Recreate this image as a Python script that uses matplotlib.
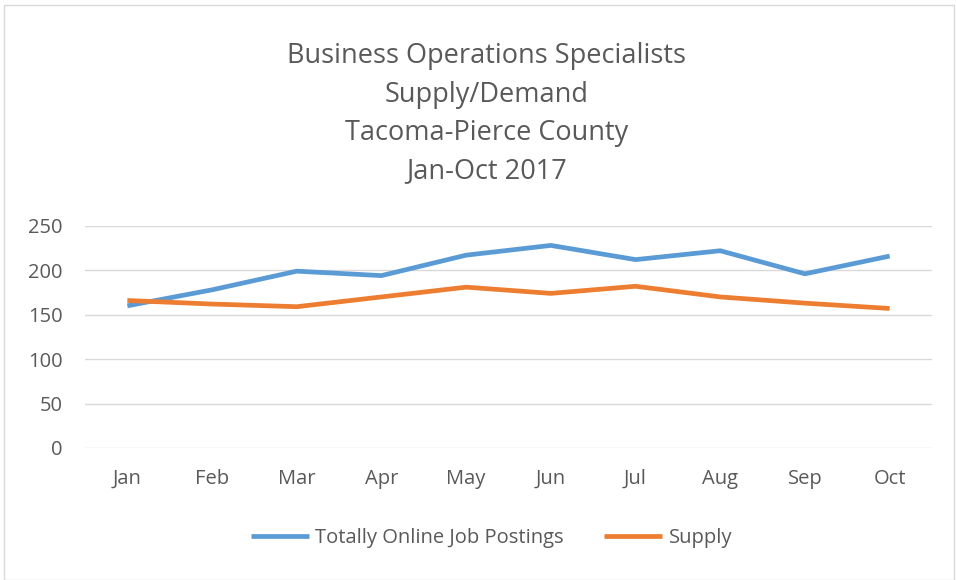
import matplotlib.pyplot as plt
from matplotlib.patches import Rectangle

months = ['Jan', 'Feb', 'Mar', 'Apr', 'May', 'Jun', 'Jul', 'Aug', 'Sep', 'Oct']
postings = [160, 178, 199, 194, 217, 228, 212, 222, 196, 216]
supply = [166, 162, 159, 170, 181, 174, 182, 170, 163, 157]

plt.rcParams['font.family'] = ['Open Sans', 'DejaVu Sans']

fig = plt.figure(figsize=(9.56, 5.8), dpi=100)
ax = fig.add_axes([0.0889, 0.2276, 0.886, 0.383])

x = range(len(months))
ax.plot(x, postings, color='#5B9BD5', lw=3.4, label='Totally Online Job Postings', solid_capstyle='butt')
ax.plot(x, supply, color='#ED7D31', lw=3.4, label='Supply', solid_capstyle='butt')

ax.set_xlim(-0.5, len(months) - 0.5)
ax.set_ylim(0, 250)
ax.set_yticks(range(0, 251, 50))
ax.set_xticks(list(x))
ax.set_xticklabels(months)
ax.grid(axis='y', color='#D9D9D9', lw=1)
ax.set_axisbelow(True)
for s in ax.spines.values():
    s.set_visible(False)
ax.tick_params(length=0, labelsize=14.5, colors='#595959')
ax.tick_params(axis='y', pad=16)
ax.tick_params(axis='x', pad=15)

fig.text(0.509, 0.804, 'Business Operations Specialists\nSupply/Demand\nTacoma-Pierce County\nJan-Oct 2017',
         ha='center', va='center', fontsize=19.5, color='#595959', linespacing=1.49)

fig.legend(loc='center', bbox_to_anchor=(0.514, 0.072), ncol=2, frameon=False,
           fontsize=14.5, labelcolor='#595959', handlelength=2.9, columnspacing=2.0, handletextpad=0.3)

fig.patches.append(Rectangle((0.004, 0.0), 0.994, 0.991, transform=fig.transFigure,
                             fill=False, edgecolor='#D9D9D9', lw=1))

fig.savefig('out.png', dpi=100)
